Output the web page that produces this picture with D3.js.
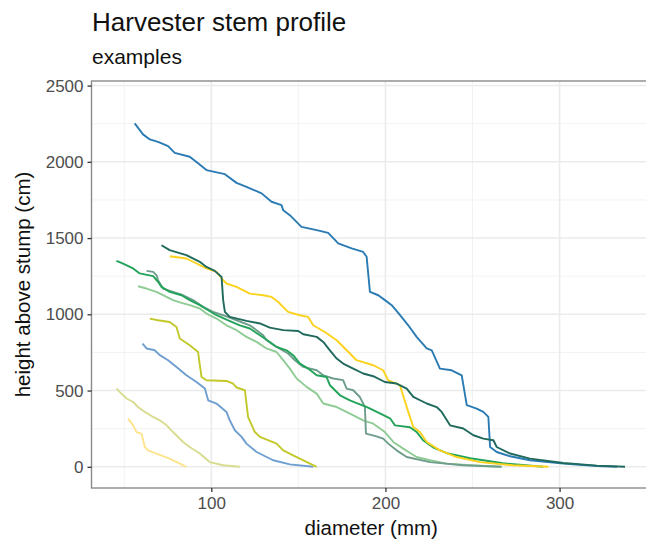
<!DOCTYPE html>
<html><head><meta charset="utf-8">
<script src="https://cdn.jsdelivr.net/npm/d3@7"></script>
<style>body{margin:0;background:#fff}svg{display:block}text{font-family:"Liberation Sans",Arial,sans-serif}</style>
</head><body>
<svg id="c" width="646" height="542"></svg>
<script>
// diameter (mm), height above stump (cm)
const stemA = [[56,2252],[60.8,2180],[64.7,2147],[69.4,2131],[75.2,2103],[79,2059],[87.6,2033],[92.4,1990],[97.2,1946],[107.8,1919],[114.5,1862],[120.2,1836],[128.9,1793],[134.6,1738],[140.3,1716],[141.3,1683],[145.1,1650],[151.8,1573],[160.5,1552],[167.1,1534],[172.9,1465],[180.6,1432],[187.2,1409],[189.2,1377],[191.1,1147],[195.9,1125],[199.7,1093],[203.6,1060],[208.4,994],[213.1,928],[217.9,852],[223.7,776],[226.6,764],[231.3,644],[238,633],[243.8,600],[246.7,404],[252.4,382],[256.2,360],[259.1,327],[260.1,130],[263.9,97],[271.6,69],[283,43],[302.2,21],[321.4,5],[333,0]];
const stemB = [[71.4,1453],[76.1,1421],[85.7,1388],[93.4,1344],[97.2,1311],[102,1285],[105.9,1245],[106.8,1093],[107.8,1016],[110.6,983],[120.2,957],[127.9,940],[133.6,913],[141.3,896],[149.9,891],[152.8,869],[160.5,852],[164.3,819],[168.1,764],[172,710],[175.7,677],[181.5,644],[187.2,612],[193,594],[199.7,556],[206.4,546],[212.2,513],[216,458],[223.7,415],[229.4,392],[232.3,360],[237.1,272],[244.7,251],[250.5,207],[256.2,185],[262,174],[263.9,130],[271.6,87],[283,54],[302.2,25],[321.4,8],[337.6,0]];
const stemC = [[76.1,1381],[85.7,1366],[97.2,1301],[103,1278],[106.8,1224],[108.7,1202],[114.5,1180],[122.1,1136],[129.8,1125],[134.6,1114],[138.4,1081],[144.1,1016],[150.9,994],[155.6,983],[158.5,928],[165.2,884],[172,830],[179.6,743],[183.4,699],[193,666],[198.7,633],[201.6,567],[208.3,535],[213.1,360],[216,261],[219.8,228],[223.7,163],[231.3,108],[240.9,64],[254.3,31],[273.4,10],[293.6,0]];
const stemD = [[45.5,1350],[48.4,1337],[55.1,1301],[58.9,1268],[66.6,1250],[69.4,1213],[71.4,1180],[76.1,1147],[82.9,1125],[87.6,1093],[93.4,1060],[98.2,1027],[103,994],[109.7,961],[116.4,928],[122.1,907],[127.9,863],[133.6,819],[137.5,786],[143.2,764],[147,732],[150.9,677],[155.6,644],[160.5,600],[166.2,589],[168.1,535],[173.9,469],[179.6,436],[185.3,410],[189.4,391],[196.8,351],[202.6,318],[205.5,272],[214.1,259],[218.1,226],[221.6,174],[227.3,128],[235.3,89],[248.6,56],[267.5,23],[290.5,0]];
const stemE = [[62.8,1285],[66.6,1278],[68.5,1257],[69.4,1224],[72.3,1169],[78,1147],[83.8,1125],[89.5,1093],[95.3,1049],[101,1016],[106.8,994],[114.5,961],[122.1,928],[126,896],[129.8,863],[131.7,830],[137.5,786],[144.1,743],[148,699],[152.8,655],[160.5,633],[164.3,600],[170,579],[175.7,568],[177.7,513],[181.5,502],[185.3,458],[187.2,415],[188.2,392],[188.8,218],[194.9,200],[198.7,185],[201.6,152],[206.4,108],[212.2,64],[225.6,31],[244.7,10],[266.8,0]];
const stemF = [[57.9,1184],[62.8,1169],[68.5,1147],[74.3,1114],[78,1093],[82.9,1075],[87.6,1060],[93.4,1038],[97.2,1005],[103,972],[108.7,928],[114.5,896],[120.2,852],[126,819],[131.7,776],[137.5,753],[141.3,699],[145.1,644],[149,579],[154.7,524],[160.5,480],[164.3,415],[172,392],[179.6,349],[187.2,305],[193,283],[199.7,228],[204.5,163],[210.2,119],[217.9,64],[225.6,43],[235.2,21],[248.6,10],[265.8,0]];
const stemG = [[64.7,972],[69.4,961],[76.1,950],[80,917],[81.9,841],[87.6,797],[92.4,753],[93.4,666],[94.4,589],[97.2,568],[108.7,563],[112.5,546],[114.5,520],[119.3,502],[120.2,415],[121.1,327],[125,228],[127.9,196],[137.5,152],[141.3,108],[149,64],[160.5,0]];
const stemH = [[60.5,808],[62.8,776],[67.5,764],[70.4,732],[75.2,699],[80,655],[85.7,600],[91.5,556],[96.3,513],[98.2,436],[103,415],[108.7,360],[110.6,305],[113.5,240],[117.4,196],[120.2,152],[126,97],[135.5,43],[145.1,16],[158.5,0]];
const stemI = [[45.5,513],[48.4,480],[51.3,448],[55.1,425],[57.9,392],[61.8,360],[66.6,327],[70.4,305],[74.3,272],[78,228],[83.8,163],[87.6,130],[93.4,87],[99.1,31],[106.8,10],[116.4,0]];
const stemJ = [[52.2,316],[55.1,272],[57,228],[59.9,218],[61.8,130],[63.7,108],[68.5,87],[76.1,54],[85.7,0]];

const stems = [stemJ, stemI, stemH, stemG, stemF, stemE, stemD, stemC, stemA, stemB];
const stemColors = ["#fde48c", "#d8dc8e", "#6e9fd0", "#c2c829", "#8fcc95", "#6f9d8c", "#22a35a", "#fcd21c", "#2a7bb3", "#1f6a5c"];

const xTicks = [100, 200, 300];
const xMinor = [50, 150, 250, 350];
const yTicks = [0, 500, 1000, 1500, 2000, 2500];
const yMinor = [250, 750, 1250, 1750, 2250];

const titleText = "Harvester stem profile";
const subtitleText = "examples";
const xTitle = "diameter (mm)";
const yTitle = "height above stump (cm)";

const svg = d3.select("#c");
const L = 91.5, R = 651, T = 81, B = 488;
const x = d3.scaleLinear().domain([31.2, 352.5]).range([L, R]);
const y = d3.scaleLinear().domain([-139, 2530]).range([B, T]);

const defs = svg.append("defs");
defs.append("clipPath").attr("id","pc").append("rect").attr("x",L).attr("y",T).attr("width",R-L).attr("height",B-T);

const grid = svg.append("g");
grid.selectAll(".xm").data(xMinor).join("line").attr("x1",d=>x(d)).attr("x2",d=>x(d)).attr("y1",T).attr("y2",B).attr("stroke","#f0f0f0").attr("stroke-width",0.9);
grid.selectAll(".ym").data(yMinor).join("line").attr("y1",d=>y(d)).attr("y2",d=>y(d)).attr("x1",L).attr("x2",R).attr("stroke","#f0f0f0").attr("stroke-width",0.9);
grid.selectAll(".xM").data(xTicks).join("line").attr("x1",d=>x(d)).attr("x2",d=>x(d)).attr("y1",T).attr("y2",B).attr("stroke","#ebebeb").attr("stroke-width",1.6);
grid.selectAll(".yM").data(yTicks).join("line").attr("y1",d=>y(d)).attr("y2",d=>y(d)).attr("x1",L).attr("x2",R).attr("stroke","#ebebeb").attr("stroke-width",1.6);

const line = d3.line().x(d=>x(d[0])).y(d=>y(d[1]));
svg.append("g").attr("clip-path","url(#pc)").selectAll("path").data(stems).join("path")
  .attr("d", line).attr("fill","none").attr("stroke",(d,i)=>stemColors[i]).attr("stroke-width",1.9).attr("stroke-linejoin","round");

// panel border
svg.append("rect").attr("x",L).attr("y",T).attr("width",R-L).attr("height",B-T).attr("fill","none").attr("stroke","#8a8a8a").attr("stroke-width",1.4);

// axes
const xAxis = d3.axisBottom(x).tickValues(xTicks).tickSize(4).tickPadding(5).tickFormat(d3.format("d"));
const gx = svg.append("g").attr("transform",`translate(0,${B})`).call(xAxis);
const yAxis = d3.axisLeft(y).tickValues(yTicks).tickSize(4).tickPadding(4).tickFormat(d3.format("d"));
const gy = svg.append("g").attr("transform",`translate(${L},0)`).call(yAxis);
[gx, gy].forEach(g => {
  g.select(".domain").remove();
  g.selectAll(".tick line").attr("stroke","#333").attr("stroke-width",1.3);
  g.selectAll(".tick text").attr("fill","#4d4d4d").style("font-size","17px").style("font-family",'"Liberation Sans",Arial,sans-serif');
});

svg.append("text").attr("x",92).attr("y",31).attr("fill","#111").style("font-size","26px").text(titleText);
svg.append("text").attr("x",92).attr("y",64).attr("fill","#111").style("font-size","21px").text(subtitleText);
svg.append("text").attr("x",(L+R)/2).attr("y",535).attr("text-anchor","middle").attr("fill","#111").style("font-size","20.5px").text(xTitle);
svg.append("text").attr("transform",`translate(30,${(T+B)/2}) rotate(-90)`).attr("text-anchor","middle").attr("fill","#111").style("font-size","20.5px").text(yTitle);
</script>
</body></html>
